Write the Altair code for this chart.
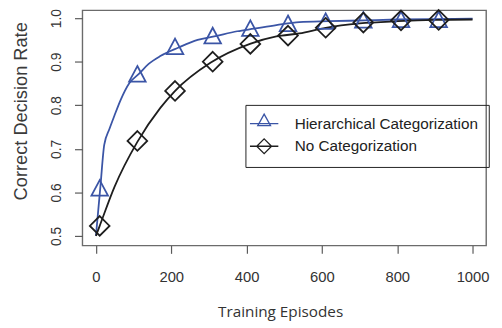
import altair as alt
import pandas as pd

series_names = ["Hierarchical Categorization", "No Categorization"]
series_colors = ["#3b55a6", "#1e1e1e"]

# smooth curves
hier_line_x = [0, 12, 22, 36, 49, 66, 88, 114, 140, 171, 218, 270, 314, 375, 420, 479, 540, 620, 714, 800, 900, 1000]
hier_line_y = [0.500, 0.615, 0.709, 0.746, 0.776, 0.813, 0.850, 0.872, 0.895, 0.913, 0.932, 0.950, 0.958, 0.970, 0.976, 0.984, 0.991, 0.993, 0.995, 0.997, 0.998, 0.999]
none_line_x = [0, 10, 49, 110, 171, 209, 305, 409, 479, 540, 610, 700, 802, 900, 1000]
none_line_y = [0.500, 0.523, 0.612, 0.716, 0.794, 0.832, 0.898, 0.941, 0.958, 0.965, 0.978, 0.988, 0.993, 0.996, 0.997]

# markers
marker_x = [10, 110, 210, 310, 410, 510, 610, 710, 810, 910]
hier_marker_y = [0.610, 0.872, 0.935, 0.960, 0.977, 0.988, 0.993, 0.996, 0.997, 0.997]
none_marker_y = [0.523, 0.718, 0.833, 0.900, 0.941, 0.960, 0.978, 0.990, 0.995, 0.996]

x_ticks = [0, 200, 400, 600, 800, 1000]
y_ticks = [0.5, 0.6, 0.7, 0.8, 0.9, 1.0]

hier_line = pd.DataFrame({"x": hier_line_x, "y": hier_line_y})
none_line = pd.DataFrame({"x": none_line_x, "y": none_line_y})
hier_pts = pd.DataFrame({"x": marker_x, "y": hier_marker_y})
none_pts = pd.DataFrame({"x": marker_x, "y": none_marker_y})
legend_df = pd.DataFrame({"x": [0, 0], "y": [0.5, 0.5], "series": series_names})

TRI = "M0,-0.8L0.84,0.78L-0.84,0.78Z"
DIA = "M0,-1L1,0L0,1L-1,0Z"
LEG_TRI = "M-1.8,0H1.8M0,-1.2L0.81,0.26L-0.81,0.26Z"
LEG_DIA = "M-1.8,0H1.8M0,-0.94L0.94,0L0,0.94L-0.94,0Z"

FONT = "Liberation Sans"

xscale = alt.Scale(domain=[-36, 1036], nice=False, zero=False)
yscale = alt.Scale(domain=[0.478, 1.0181], nice=False, zero=False)

x_axis = alt.Axis(
    values=x_ticks, format="d", grid=False, domain=False,
    tickSize=8, tickColor="#5a5a5a", tickWidth=1.2,
    labelFont=FONT, labelFontSize=15, labelColor="#333333",
    labelBaseline="alphabetic", labelPadding=28.6, labelFlush=False,
    title="Training Episodes", titleFont="Open Sans", titleFontSize=15.5,
    titleFontWeight="normal", titleColor="#333333",
    titleX=200.7, titleY=67.3, titleAlign="center", titleBaseline="middle",
)
y_axis = alt.Axis(
    values=y_ticks, format=".1f", grid=False, domain=False,
    tickSize=8, tickColor="#5a5a5a", tickWidth=1.2,
    labelFont=FONT, labelFontSize=14, labelColor="#333333",
    labelAngle=270, labelAlign="center", labelBaseline="alphabetic",
    labelPadding=13.8, labelFlush=False,
    title="Correct Decision Rate", titleFont=FONT, titleFontSize=18.5,
    titleFontWeight="normal", titleColor="#3a3a3a",
    titleAngle=270, titleX=-62.5, titleY=102, titleAlign="center", titleBaseline="middle",
)

X = alt.X("x:Q", scale=xscale, axis=x_axis)
Y = alt.Y("y:Q", scale=yscale, axis=y_axis)

legend = alt.Legend(
    title=None, orient="none", legendX=165.5, legendY=96,
    strokeColor="#222222", padding=10, symbolSize=256, symbolStrokeWidth=1.3,
    symbolFillColor="transparent", labelOffset=22, rowPadding=3, labelLimit=400,
    labelFont=FONT, labelFontSize=15.5, labelColor="#222222",
)

hier_line_layer = alt.Chart(hier_line).mark_line(
    strokeWidth=1.8, interpolate="monotone", color=series_colors[0]
).encode(x=X, y=Y)
none_line_layer = alt.Chart(none_line).mark_line(
    strokeWidth=1.8, interpolate="monotone", color=series_colors[1]
).encode(x=X, y=Y)

hier_pt_layer = alt.Chart(hier_pts).mark_point(
    shape=TRI, size=400, filled=False, strokeWidth=1.8, opacity=1, color=series_colors[0]
).encode(x=X, y=Y)
none_pt_layer = alt.Chart(none_pts).mark_point(
    shape=DIA, size=400, filled=False, strokeWidth=1.8, opacity=1, color=series_colors[1]
).encode(x=X, y=Y)

legend_layer = alt.Chart(legend_df).transform_filter("false").mark_point(
    filled=False, strokeWidth=1.3, opacity=1, size=256
).encode(
    x=X, y=Y,
    color=alt.Color("series:N", scale=alt.Scale(domain=series_names, range=series_colors), legend=legend),
    shape=alt.Shape("series:N", scale=alt.Scale(domain=series_names, range=[LEG_TRI, LEG_DIA]), legend=legend),
)

chart = alt.layer(
    hier_line_layer, none_line_layer, hier_pt_layer, none_pt_layer, legend_layer
).properties(
    width=409.8, height=238.7,
    autosize=alt.AutoSizeParams(type="none"),
    padding={"left": 75.5, "top": 0, "right": 8, "bottom": 74},
    background="white",
).configure_view(stroke="#6b6b6b", strokeWidth=1.4)

chart.save("out.html", embed_options={"renderer": "svg", "actions": False})
